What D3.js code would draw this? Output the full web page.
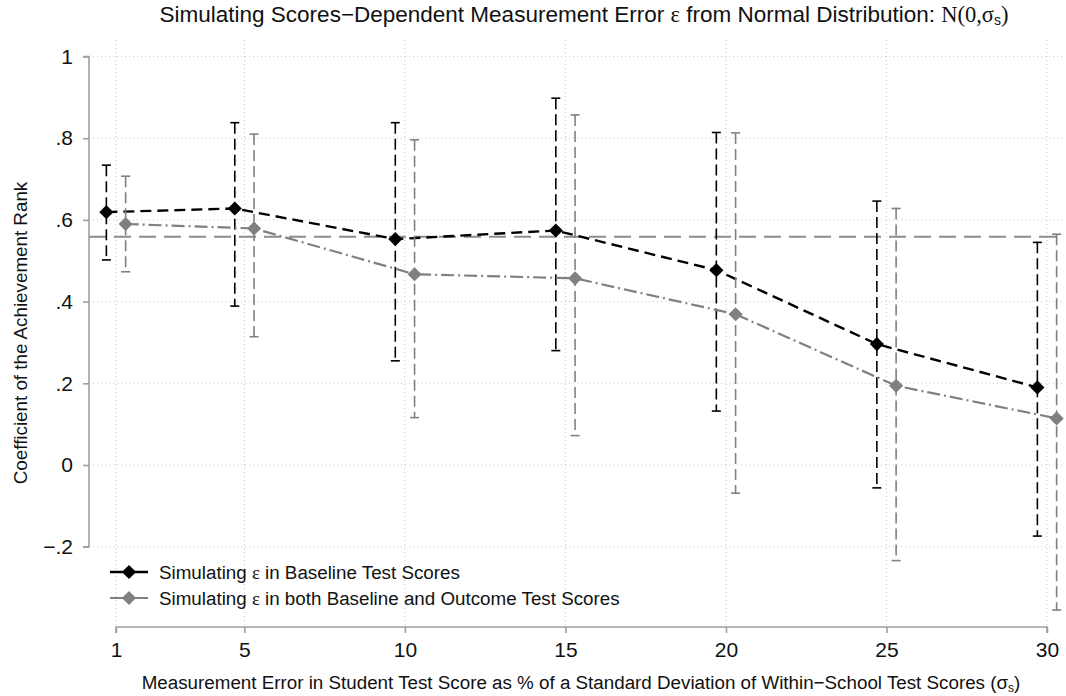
<!DOCTYPE html>
<html><head><meta charset="utf-8">
<script src="https://cdn.jsdelivr.net/npm/d3@7"></script>
<style>body{margin:0;background:#fff}svg{display:block}text{font-family:"Liberation Sans",Arial,sans-serif;fill:#111}</style>
</head><body>
<script>
const xTicks = [1, 5, 10, 15, 20, 25, 30];
const yTicks = [-0.2, 0, 0.2, 0.4, 0.6, 0.8, 1];
const yTickLabels = ["\u2212.2", "0", ".2", ".4", ".6", ".8", "1"];
const errorLevels = [1, 5, 10, 15, 20, 25, 30];
const baselineCoef = [0.619, 0.628, 0.553, 0.574, 0.477, 0.296, 0.190];
const baselineLo   = [0.502, 0.389, 0.255, 0.280, 0.132, -0.056, -0.174];
const baselineHi   = [0.734, 0.838, 0.838, 0.898, 0.814, 0.646, 0.545];
const bothCoef     = [0.590, 0.579, 0.467, 0.457, 0.369, 0.194, 0.114];
const bothLo       = [0.473, 0.314, 0.116, 0.072, -0.069, -0.234, -0.355];
const bothHi       = [0.707, 0.810, 0.796, 0.857, 0.813, 0.628, 0.565];
const referenceValue = 0.559;
const seriesNames = ["Simulating \u03b5 in Baseline Test Scores", "Simulating \u03b5 in both Baseline and Outcome Test Scores"];

const W = 1066, H = 696;
const svg = d3.select("body").append("svg").attr("width", W).attr("height", H);

const x = d3.scaleLinear().domain([1, 30]).range([116, 1047]);
const y = d3.scaleLinear().domain([-0.2, 1]).range([546.7, 56.5]);
const plotL = 89, plotR = 1062, plotT = 40, plotB = 627;

// grid
const grid = svg.append("g");
grid.selectAll(".hg").data(yTicks).join("line")
  .attr("x1", plotL).attr("x2", plotR).attr("y1", d => y(d)).attr("y2", d => y(d))
  .attr("stroke", "#c8c8c8").attr("stroke-width", 1).attr("stroke-dasharray", "1,3");
grid.selectAll(".vg").data(xTicks).join("line")
  .attr("x1", d => x(d)).attr("x2", d => x(d)).attr("y1", plotT).attr("y2", plotB)
  .attr("stroke", "#c8c8c8").attr("stroke-width", 1).attr("stroke-dasharray", "1,3");

// axes
const yAxis = d3.axisLeft(y).tickValues(yTicks).tickSize(6).tickPadding(10)
  .tickFormat((d, i) => yTickLabels[i]);
const gy = svg.append("g").attr("transform", `translate(${plotL},0)`).call(yAxis);
const xAxis = d3.axisBottom(x).tickValues(xTicks).tickSize(6).tickPadding(9);
const gx = svg.append("g").attr("transform", `translate(0,${plotB})`).call(xAxis);
[gx, gy].forEach(g => {
  g.select(".domain").attr("stroke", "#a0a0a0").attr("stroke-width", 1.6);
  g.selectAll(".tick line").attr("stroke", "#a0a0a0").attr("stroke-width", 1.6);
  g.selectAll(".tick text").attr("font-size", 21).attr("fill", "#111")
    .attr("font-family", '"Liberation Sans",Arial,sans-serif');
});
gy.select(".domain").attr("d", `M-6,${y(1)}H0V${y(-0.2)}H-6`);
gx.select(".domain").attr("d", `M${x(1)},6V0H${x(30)}V6`);

// reference line
svg.append("line").attr("x1", plotL).attr("x2", plotR)
  .attr("y1", y(referenceValue)).attr("y2", y(referenceValue))
  .attr("stroke", "#8c8c8c").attr("stroke-width", 2).attr("stroke-dasharray", "17,8");

const series = [
  {coef: baselineCoef, lo: baselineLo, hi: baselineHi, off: -0.3, color: "#000", dash: "11,6", lw: 2.4},
  {coef: bothCoef, lo: bothLo, hi: bothHi, off: 0.3, color: "#808080", dash: "13,4,2,4", lw: 2.2}
];

const diamond = d3.symbol().type(d3.symbolSquare).size(100);

series.forEach(s => {
  const pts = errorLevels.map((v, i) => ({x: v + s.off, c: s.coef[i], lo: s.lo[i], hi: s.hi[i]}));
  const g = svg.append("g");
  g.selectAll(".eb").data(pts).join("line")
    .attr("x1", d => x(d.x)).attr("x2", d => x(d.x))
    .attr("y1", d => y(d.hi)).attr("y2", d => y(d.lo))
    .attr("stroke", s.color).attr("stroke-width", 1.6).attr("stroke-dasharray", "11,5");
  ["hi", "lo"].forEach(k => {
    g.selectAll(".cap" + k).data(pts).join("line")
      .attr("x1", d => x(d.x) - 4.5).attr("x2", d => x(d.x) + 4.5)
      .attr("y1", d => y(d[k])).attr("y2", d => y(d[k]))
      .attr("stroke", s.color).attr("stroke-width", 1.6);
  });
  g.append("path").datum(pts)
    .attr("d", d3.line().x(d => x(d.x)).y(d => y(d.c)))
    .attr("fill", "none").attr("stroke", s.color).attr("stroke-width", s.lw)
    .attr("stroke-dasharray", s.dash);
  g.selectAll(".mk").data(pts).join("path")
    .attr("d", diamond)
    .attr("transform", d => `translate(${x(d.x)},${y(d.c)}) rotate(45)`)
    .attr("fill", s.color);
});

// legend
const leg = svg.append("g");
series.forEach((s, i) => {
  const ly = 572 + i * 26;
  leg.append("line").attr("x1", 110).attr("x2", 148).attr("y1", ly).attr("y2", ly)
    .attr("stroke", s.color).attr("stroke-width", s.lw).attr("stroke-dasharray", i === 0 ? null : "14,4,9,0");
  leg.append("path").attr("d", diamond).attr("transform", `translate(129,${ly}) rotate(45)`).attr("fill", s.color);
  const t = leg.append("text").attr("x", 159).attr("y", ly + 6.5).attr("font-size", 18.8);
  const parts = seriesNames[i].split("\u03b5");
  t.append("tspan").text(parts[0]);
  t.append("tspan").attr("font-family", '"Liberation Serif",serif').text("\u03b5");
  t.append("tspan").text(parts[1]);
});

// title
const title = svg.append("text").attr("x", 584).attr("y", 22).attr("text-anchor", "middle").attr("font-size", 22.5);
title.append("tspan").text("Simulating Scores\u2212Dependent Measurement Error ");
title.append("tspan").attr("font-family", '"Liberation Serif",serif').text("\u03b5");
title.append("tspan").text(" from Normal Distribution: ");
title.append("tspan").attr("font-family", '"Liberation Serif",serif').text("N(0,\u03c3");
title.append("tspan").attr("font-size", 14).attr("dy", 3).text("s");
title.append("tspan").attr("font-family", '"Liberation Serif",serif').attr("dy", -3).text(")");

// x label
const xl = svg.append("text").attr("x", 581).attr("y", 689).attr("text-anchor", "middle").attr("font-size", 18.8);
xl.append("tspan").text("Measurement Error in Student Test Score as % of a Standard Deviation of Within\u2212School Test Scores (\u03c3");
xl.append("tspan").attr("font-size", 12).attr("dy", 3).text("s");
xl.append("tspan").attr("dy", -3).text(")");

// y label
svg.append("text").attr("transform", "translate(27,333) rotate(-90)").attr("text-anchor", "middle")
  .attr("font-size", 18.8).text("Coefficient of the Achievement Rank");
</script>
</body></html>
